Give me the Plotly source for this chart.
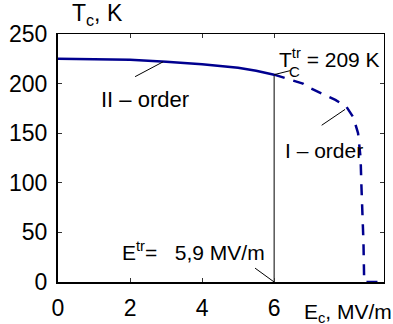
import plotly.graph_objects as go

# ---- data ----
E_solid = [0, 1, 2, 3, 4, 5, 5.5, 6]
T_solid = [225, 224.8, 224.0, 222, 219.5, 216, 213, 209]

E_dash = [6, 6.4, 6.8, 7.0, 7.4, 7.7, 8.0, 8.2, 8.33, 8.4, 8.42, 8.45, 8.48, 8.5, 8.92]
T_dash = [209, 204.5, 200, 195.5, 189, 183.5, 177, 166, 150, 125, 100, 75, 40, 0, 0]

E_TR = 6.0
TC_TR = 209

x_ticks = [0, 2, 4, 6]
y_ticks = [0, 50, 100, 150, 200, 250]

FONT = "Liberation Sans, Arial, Helvetica, sans-serif"
LINE = "#00008f"

fig = go.Figure()

# vertical transition line
fig.add_trace(go.Scatter(x=[E_TR, E_TR], y=[0, TC_TR], mode="lines",
                         line=dict(color="black", width=1), showlegend=False,
                         hoverinfo="skip", cliponaxis=False))
fig.add_trace(go.Scatter(x=E_solid, y=T_solid, mode="lines",
                         line=dict(color=LINE, width=2.5), showlegend=False))
fig.add_trace(go.Scatter(x=E_dash, y=T_dash, mode="lines",
                         line=dict(color=LINE, width=2.5, dash="11px,9px"),
                         showlegend=False, cliponaxis=False))
# invisible trace to hold mirror axes
fig.add_trace(go.Scatter(x=[0], y=[0], xaxis="x2", yaxis="y2", mode="markers",
                         marker=dict(opacity=0), showlegend=False, hoverinfo="skip"))

axis_common = dict(ticks="inside", ticklen=4, tickcolor="#333", showgrid=False,
                   zeroline=False, linecolor="black", automargin=False)

fig.update_layout(
    width=393, height=324,
    margin=dict(l=58, r=9, t=34, b=42),
    paper_bgcolor="white", plot_bgcolor="white",
    font=dict(family=FONT, color="black", size=22),
    xaxis=dict(range=[0, 9.05], tickvals=x_ticks, showline=True, linewidth=2,
               tickfont=dict(size=23), ticklabelstandoff=4, **axis_common),
    yaxis=dict(range=[0, 250], tickvals=y_ticks, showline=True, linewidth=2,
               tickfont=dict(size=23), ticklabelstandoff=4, **axis_common),
    xaxis2=dict(range=[0, 9.05], tickvals=x_ticks, overlaying="x", side="top",
                showline=True, linewidth=1, showticklabels=False, **axis_common),
    yaxis2=dict(range=[0, 250], tickvals=y_ticks, overlaying="y", side="right",
                showline=True, linewidth=1, showticklabels=False, **axis_common),
)

ann = dict(showarrow=False, font=dict(family=FONT, size=21, color="black"))
fig.add_annotation(x=0.33, y=1.078, xref="x", yref="paper", text="T<sub>c</sub>, K",
                   xanchor="left", yanchor="middle",
                   showarrow=False, font=dict(family=FONT, size=23, color="black"))
fig.add_annotation(x=1.15, y=184, text="II – order", xanchor="left", yanchor="middle",
                   showarrow=False, font=dict(family=FONT, size=22, color="black"))
fig.add_annotation(x=6.08, y=226, text="T<sup>tr</sup> = 209 K", xanchor="left",
                   yanchor="middle", **ann)
fig.add_annotation(x=6.35, y=212, text="C", xanchor="left", yanchor="middle",
                   showarrow=False, font=dict(family=FONT, size=15, color="black"))
fig.add_annotation(x=6.25, y=133, text="I – order", xanchor="left", yanchor="middle", **ann)
fig.add_annotation(x=1.73, y=31, text="E<sup>tr</sup>=\u00a0\u00a0 5,9 MV/m",
                   xanchor="left", yanchor="middle", **ann)
fig.add_annotation(x=6.78, y=-0.125, xref="x", yref="paper", text="E<sub>c</sub>, MV/m",
                   xanchor="left", yanchor="middle", **ann)

# leader lines
for (x0, y0, x1, y1) in [(2.14, 207, 2.92, 222), (6.0, 209, 6.44, 213),
                         (7.32, 158, 7.97, 174), (5.47, 14, 6.0, 0)]:
    fig.add_shape(type="line", x0=x0, y0=y0, x1=x1, y1=y1, xref="x", yref="y",
                  line=dict(color="black", width=1))

fig.write_html("out.html", config={"displayModeBar": False},
               post_script="document.body.style.margin='0px';")
